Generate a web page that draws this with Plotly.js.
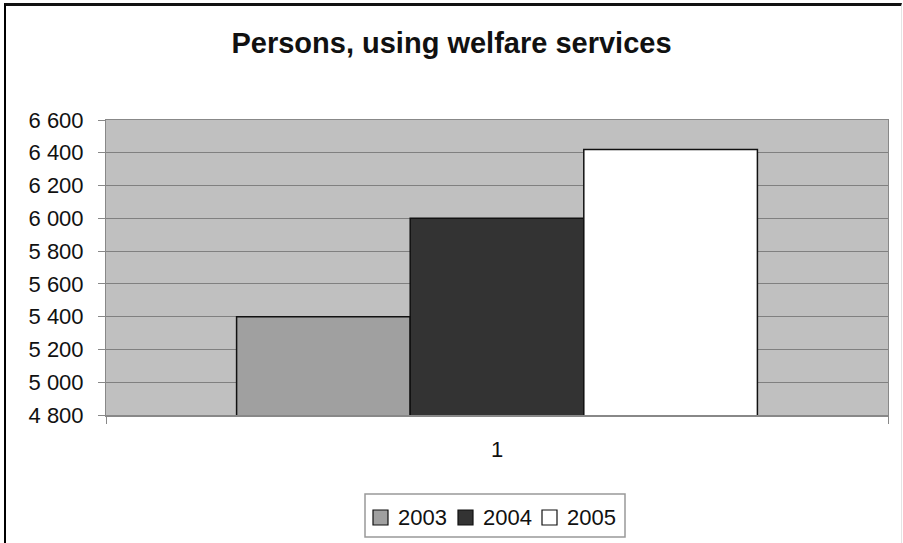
<!DOCTYPE html>
<html>
<head>
<meta charset="utf-8">
<script src="https://cdn.plot.ly/plotly-3.0.1.min.js"></script>
<style>
  html, body { margin: 0; padding: 0; background: #fff; }
  #wrap { position: relative; width: 903px; height: 543px; overflow: hidden; }
  #chart { position: absolute; left: 0; top: 0; width: 903px; height: 543px; }
  #frame {
    position: absolute; left: 4px; top: 3px; width: 895px; height: 560px;
    border-left: 2px solid #000; border-top: 3px solid #111; border-right: 1px solid #e4e4e4;
    pointer-events: none;
  }
</style>
</head>
<body>
<div id="wrap">
  <div id="chart"></div>
  <div id="frame"></div>
</div>
<script>
// Persons using welfare services, one bar per year
const category = ['1'];
const years = ['2003', '2004', '2005'];
const persons = [5400, 6000, 6420];
const barColors = ['#a0a0a0', '#333333', '#ffffff'];
const yTicks = [4800, 5000, 5200, 5400, 5600, 5800, 6000, 6200, 6400, 6600];

const fontFamily = 'Liberation Sans, Arial, sans-serif';

const W = 903, H = 543;
const M = { l: 106, r: 15, t: 120, b: 128 };
const plotW = W - M.l - M.r, plotH = H - M.t - M.b;
// pixel position on the page -> paper fraction of the plot area
const px = v => (v - M.l) / plotW;
const py = v => (H - M.b - v) / plotH;

const traces = years.map((yr, i) => ({
  type: 'bar',
  name: yr,
  x: category,
  y: [persons[i]],
  marker: { color: barColors[i], line: { color: '#111', width: 1.5 } },
  hoverinfo: 'name+y'
}));

// Boxed legend under the plot: frame, colour swatches and year labels
const legendBox = { x0: 365, x1: 625, y0: 494, y1: 537 };
const swatchX = [373, 458, 542];
const swatchSize = 15;
const swatchY = 510;
const shapes = [{
  type: 'rect', xref: 'paper', yref: 'paper',
  x0: px(legendBox.x0), x1: px(legendBox.x1), y0: py(legendBox.y1), y1: py(legendBox.y0),
  line: { color: '#999', width: 1.5 }, fillcolor: '#ffffff', layer: 'above'
}];
const annotations = [];
years.forEach((yr, i) => {
  shapes.push({
    type: 'rect', xref: 'paper', yref: 'paper',
    x0: px(swatchX[i]), x1: px(swatchX[i] + swatchSize),
    y0: py(swatchY + swatchSize), y1: py(swatchY),
    line: { color: '#111', width: 1.2 }, fillcolor: barColors[i], layer: 'above'
  });
  annotations.push({
    xref: 'paper', yref: 'paper',
    x: px(swatchX[i] + swatchSize + 8), y: py(swatchY + swatchSize / 2),
    xanchor: 'left', yanchor: 'middle', showarrow: false,
    text: yr, font: { size: 22, family: fontFamily, color: '#111' }
  });
});

const layout = {
  width: W,
  height: H,
  margin: M,
  paper_bgcolor: '#ffffff',
  plot_bgcolor: '#c0c0c0',
  separators: ', ',
  font: { family: fontFamily, color: '#111', size: 22 },
  title: {
    text: '<b>Persons, using welfare services</b>',
    font: { family: fontFamily, size: 29, color: '#111' },
    x: 0.5, xanchor: 'center', xref: 'container',
    y: 1 - 43 / H, yanchor: 'middle', yref: 'container'
  },
  barmode: 'group',
  bargap: 0.334,
  bargroupgap: 0,
  xaxis: {
    type: 'category',
    showgrid: false,
    showline: true, linecolor: '#888', linewidth: 1.5, mirror: true,
    ticks: 'outside', tickson: 'boundaries', ticklen: 7, tickcolor: '#888',
    ticklabelstandoff: 14,
    tickfont: { size: 22, family: fontFamily, color: '#111' },
    fixedrange: true, automargin: false
  },
  yaxis: {
    range: [4800, 6600],
    tickvals: yTicks,
    tickformat: ',d',
    showgrid: true, gridcolor: '#808080', gridwidth: 1.2,
    zeroline: false,
    showline: true, linecolor: '#888', linewidth: 1, mirror: true,
    ticks: 'outside', ticklen: 7, tickcolor: '#888',
    ticklabelstandoff: 10,
    tickfont: { size: 22, family: fontFamily, color: '#111' },
    fixedrange: true, automargin: false
  },
  showlegend: false,
  shapes: shapes,
  annotations: annotations
};

Plotly.newPlot('chart', traces, layout, { displayModeBar: false, staticPlot: true });
</script>
</body>
</html>
